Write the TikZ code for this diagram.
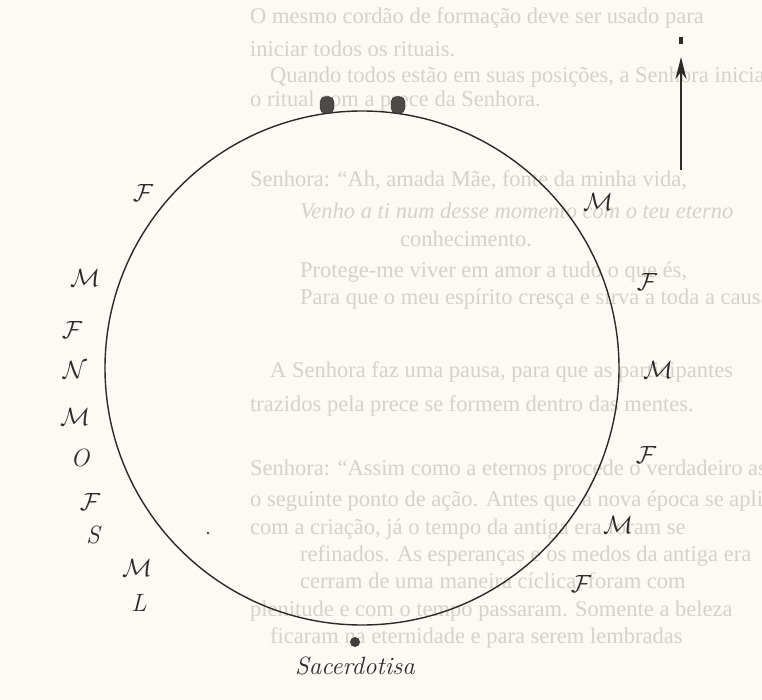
\documentclass[tikz,border=0pt]{standalone}
\usepackage{fontspec}
\newfontfamily\bgfont{Liberation Serif}
\usetikzlibrary{arrows.meta,positioning}
\definecolor{paper}{RGB}{252,250,245}
\definecolor{ink}{RGB}{45,42,40}
\definecolor{ghost}{RGB}{214,209,203}
\tikzset{
  bgline/.style={anchor=base west, inner sep=0pt, text=ghost, font=\bgfont\fontsize{22.5}{26}\selectfont},
  letter/.style={inner sep=0pt, text=ink, font=\fontsize{25}{29}\selectfont},
  bump/.style={draw=ink, fill=ink!85, minimum width=14pt, minimum height=17pt, rounded corners=5.5pt, inner sep=0pt},
}
\begin{document}
\begin{tikzpicture}[x=1pt,y=-1pt]
\useasboundingbox (0,0) rectangle (762,700);
\fill[paper] (0,0) rectangle (762,700);
\begin{scope}
\clip (0,0) rectangle (762,700);
\node[bgline] (t1) at (250,24) {O mesmo cordão de formação deve ser usado para};
\node[bgline] (t2) at (250,57) {iniciar todos os rituais.};
\node[bgline] (t3) at (270,83) {Quando todos estão em suas posições, a Senhora inicia};
\node[bgline] (t4) at (250,107) {o ritual com a prece da Senhora.};
\node[bgline] (t5) at (250,187) {Senhora: “Ah, amada Mãe, fonte da minha vida,};
\node[bgline] (t6) at (300,219) {\itshape Venho a ti num desse momento com o teu eterno};
\node[bgline] (t7) at (400,247) {conhecimento.};
\node[bgline] (t8) at (300,277) {Protege-me viver em amor a tudo o que és,};
\node[bgline] (t9) at (300,305) {Para que o meu espírito cresça e sirva a toda a causa.”};
\node[bgline] (t10) at (270,377) {A Senhora faz uma pausa, para que as participantes};
\node[bgline] (t11) at (250,411) {trazidos pela prece se formem dentro das mentes.};
\node[bgline] (t12) at (250,475) {Senhora: “Assim como a eternos procede o verdadeiro assim a};
\node[bgline] (t13) at (250,506) {o seguinte ponto de ação. Antes que a nova época se apli};
\node[bgline] (t14) at (250,534) {com a criação, já o tempo da antiga era foram se};
\node[bgline] (t15) at (300,561) {refinados. As esperanças e os medos da antiga era};
\node[bgline] (t16) at (300,588) {cerram de uma maneira cíclica, foram com};
\node[bgline] (t17) at (250,616) {plenitude e com o tempo passaram. Somente a beleza};
\node[bgline] (t18) at (270,643) {ficaram na eternidade e para serem lembradas};
\end{scope}
% main circle
\node[circle, draw=ink, line width=1.4pt, minimum size=514pt, inner sep=0pt] (ring) at (362,368) {};
% two bumps on top
\node[bump] (b1) at (327,105) {};
\node[bump] (b2) at (398,105) {};
% arrow at top right
\coordinate (abot) at (681,170);
\coordinate (atop) at (681,57);
\draw[ink, line width=2pt, -{Stealth[length=22pt,width=11pt,inset=7pt]}] (abot) -- (atop);
\node[fill=ink, minimum width=3.5pt, minimum height=7pt, inner sep=0pt] (amark) at (681,41) {};
% letters, left side
\node[letter] (l1) at (143,193) {$\mathcal{F}$};
\node[letter] (l2) at (85,278) {$\mathcal{M}$};
\node[letter] (l3) at (72,330) {$\mathcal{F}$};
\node[letter] (l4) at (75,370) {$\mathcal{N}$};
\node[letter] (l5) at (75,417) {$\mathcal{M}$};
\node[letter] (l6) at (80,458) {\itshape O};
\node[letter] (l7) at (90,502) {$\mathcal{F}$};
\node[letter] (l8) at (93,535) {\itshape S};
\node[letter] (l9) at (137,568) {$\mathcal{M}$};
\node[letter] (l10) at (139,603) {\itshape L};
% letters, right side
\node[letter] (r1) at (598,202) {$\mathcal{M}$};
\node[letter] (r2) at (647,282) {$\mathcal{F}$};
\node[letter] (r3) at (658,370) {$\mathcal{M}$};
\node[letter] (r4) at (646,455) {$\mathcal{F}$};
\node[letter] (r5) at (618,525) {$\mathcal{M}$};
\node[letter] (r6) at (581,584) {$\mathcal{F}$};
% small speck
\node[circle, fill=ink, minimum size=2.5pt, inner sep=0pt] (speck) at (208,533) {};
% priestess
\node[circle, fill=ink!90, minimum size=10pt, inner sep=0pt] (sac) at (355,642) {};
\node[inner sep=0pt, text=ink, font=\itshape\fontsize{25}{29}\selectfont, below=9pt of sac.south, anchor=north] (sactext) {Sacerdotisa};
\end{tikzpicture}
\end{document}
